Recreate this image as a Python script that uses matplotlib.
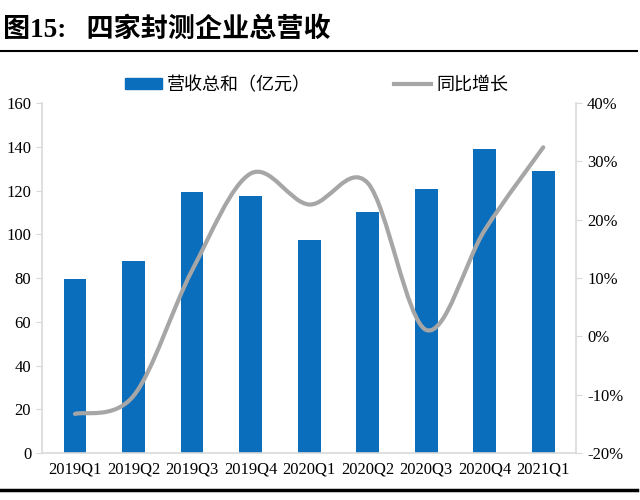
import numpy as np
import matplotlib
matplotlib.use("Agg")
import matplotlib.pyplot as plt
from matplotlib.path import Path
from matplotlib.patches import PathPatch, Patch
from matplotlib.lines import Line2D
from matplotlib.ticker import FuncFormatter

quarters = ["2019Q1", "2019Q2", "2019Q3", "2019Q4", "2020Q1",
            "2020Q2", "2020Q3", "2020Q4", "2021Q1"]
revenue = [79.5, 88.0, 119.3, 117.7, 97.6, 110.3, 120.5, 138.8, 129.0]
yoy = [-13.3, -10.2, 11.3, 27.9, 22.6, 26.3, 1.1, 18.2, 32.4]

BLUE = "#0A6EBD"
GRAY = "#A6A6A6"
SPINE = "#D9D9D9"
serif = ["Liberation Serif", "Noto Sans CJK SC"]
cjk = ["Noto Sans CJK SC", "DejaVu Sans"]

fig = plt.figure(figsize=(6.4, 5.0), dpi=100)
ax = fig.add_axes([0.066, 0.094, 0.834, 0.70])
ax2 = ax.twinx()

x = np.arange(len(quarters))
ax.bar(x, revenue, width=0.39, color=BLUE, zorder=2)
ax.set_xlim(-0.56, len(quarters) - 0.44)
ax.set_ylim(0, 160)
ax.set_yticks(range(0, 161, 20))
ax.set_xticks(x)
ax.set_xticklabels(quarters)

ax2.set_ylim(-20, 40)
ax2.set_yticks(range(-20, 41, 10))
ax2.yaxis.set_major_formatter(FuncFormatter(lambda v, p: "%d%%" % v))

# smoothed line like the Excel "smooth" option (cubic Bezier through points)
pts = np.column_stack([x, yoy]).astype(float)
verts = [pts[0]]
codes = [Path.MOVETO]
for i in range(len(pts) - 1):
    p0 = pts[i - 1] if i > 0 else pts[i]
    p1, p2 = pts[i], pts[i + 1]
    p3 = pts[i + 2] if i + 2 < len(pts) else pts[i + 1]
    verts += [p1 + (p2 - p0) / 6.0, p2 - (p3 - p1) / 6.0, p2]
    codes += [Path.CURVE4] * 3
ax2.add_patch(PathPatch(Path(verts, codes), facecolor="none", edgecolor=GRAY,
                        lw=3.0, capstyle="round", zorder=3))
ax.set_zorder(ax2.get_zorder() - 1)
ax.patch.set_visible(False)

for a in (ax, ax2):
    a.spines["top"].set_visible(False)
    for s in ("left", "right", "bottom"):
        a.spines[s].set_color(SPINE)
        a.spines[s].set_linewidth(1.2)
    a.tick_params(axis="y", length=4, color=SPINE, labelsize=12, pad=4)
    for lab in a.get_yticklabels():
        lab.set_family(serif)
ax.tick_params(axis="x", length=0, labelsize=12, pad=6)
for lab in ax.get_xticklabels():
    lab.set_family(serif)
ax2.spines["left"].set_visible(False)
ax2.spines["bottom"].set_visible(False)
ax.spines["right"].set_visible(False)

handles = [Patch(facecolor=BLUE, edgecolor=BLUE),
           Line2D([0], [0], color=GRAY, lw=3.0)]
fig.legend(handles, ["营收总和（亿元）", "同比增长"], loc="center",
           bbox_to_anchor=(0.495, 0.83), ncol=2, frameon=False,
           prop={"family": cjk, "size": 13}, columnspacing=4.6,
           handlelength=2.05, handleheight=0.55, handletextpad=0.3)

fig.text(0.005, 0.94, "图15:   四家封测企业总营收", ha="left", va="center",
         fontsize=19.5, fontweight="bold", family=serif)
fig.add_artist(Line2D([0.0, 0.995], [0.898, 0.898], color="black", lw=1.5))
fig.add_artist(Line2D([0.0, 0.995], [0.021, 0.021], color="black", lw=2.5))

fig.savefig("out.png", dpi=100)
